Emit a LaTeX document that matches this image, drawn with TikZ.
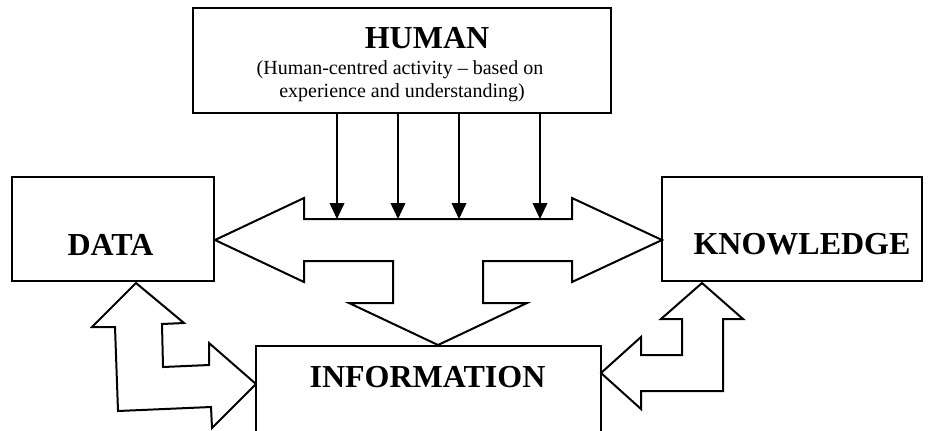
\documentclass[tikz,border=0pt]{standalone}
\usepackage{fontspec}
\setmainfont{Liberation Serif}
\usepackage{tikz}
\usetikzlibrary{shapes}
\usetikzlibrary{arrows.meta}
\tikzset{
  main node/.style={rectangle,draw,line width=1.5pt,inner sep=0pt},
  title node/.style={font=\fontsize{24}{28}\selectfont\bfseries,inner sep=0pt,anchor=base},
  small node/.style={font=\fontsize{15}{17}\selectfont,inner sep=0pt,anchor=base},
  block/.style={-,draw,line width=1.5pt,line join=miter}
}

\begin{document}
\begin{tikzpicture}[x=0.75pt,y=-0.75pt,->,>={Triangle[length=12pt,width=11pt]}]
  \useasboundingbox (0,0) rectangle (935,430);
  \clip (0,0) rectangle (935,430);
  % boxes
  \node[main node,minimum width=313.5pt,minimum height=78.75pt] (1) at (402,60.5) {};
  \node[main node,minimum width=151.5pt,minimum height=78pt] (2) at (113,229) {};
  \node[main node,minimum width=195pt,minimum height=78pt] (3) at (792,229) {};
  \node[main node,minimum width=258.75pt,minimum height=85.5pt] (4) at (428.5,403) {};
  % texts
  \node[title node] (1a) at (427,48) {HUMAN};
  \node[small node] (1b) at (400,74) {(Human-centred activity -- based on};
  \node[small node] (1c) at (402,97) {experience and understanding)};
  \node[title node] (2a) at (110.5,255) {DATA};
  \node[title node] (3a) at (802,254) {KNOWLEDGE};
  \node[title node] (4a) at (427.5,387) {INFORMATION};
  % block arrows
  \draw[block] (215,240) -- (304,198) -- (304,219) -- (572,219) -- (572,198) -- (662,240)
    -- (572,282) -- (572,261) -- (483,261) -- (483,303) -- (527,303) -- (438,345)
    -- (349,303) -- (393,303) -- (393,261) -- (304,261) -- (304,282) -- cycle;
  \draw[block] (136,283) -- (92,327) -- (115,327) -- (118,411) -- (211,407) -- (212,428)
    -- (256,384) -- (209,343) -- (209,365) -- (163,367) -- (162,324) -- (184,323) -- cycle;
  \draw[block] (702,283) -- (743,319) -- (723,319) -- (723,391) -- (641,391) -- (641,409)
    -- (601,373) -- (641,337) -- (641,355) -- (682,355) -- (682,319) -- (661,319) -- cycle;
  % arrows from human
  \coordinate (t1) at (337,219);
  \coordinate (t2) at (398,219);
  \coordinate (t3) at (459,219);
  \coordinate (t4) at (540,219);
  \foreach \t in {t1,t2,t3,t4}
    \draw[line width=1.3pt] (1.south -| \t) -- (\t);
\end{tikzpicture}
\end{document}
